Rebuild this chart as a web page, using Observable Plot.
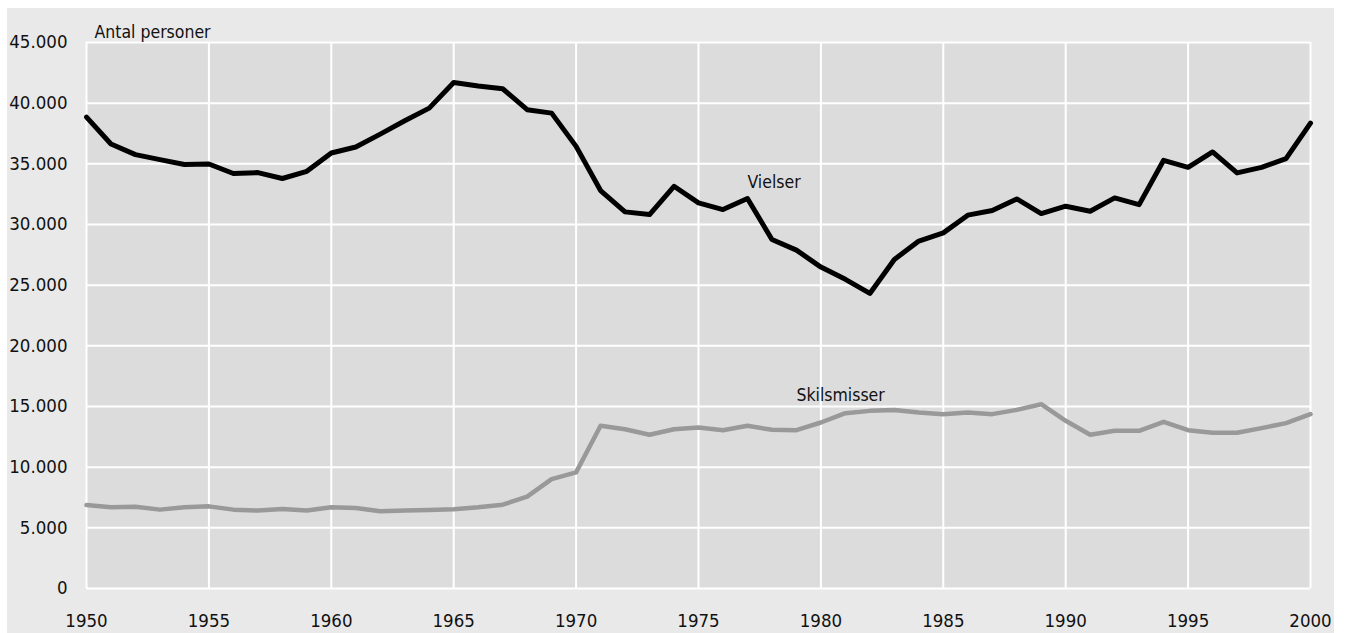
<!DOCTYPE html>
<html>
<head>
<meta charset="utf-8">
<script src="https://cdn.jsdelivr.net/npm/d3@7"></script>
<script src="https://cdn.jsdelivr.net/npm/@observablehq/plot@0.6"></script>
<style>
  html, body { margin: 0; padding: 0; background: #ffffff; overflow: hidden; }
  #box { position: absolute; left: 7px; top: 8px; width: 1327px; height: 625px; background: #e9e9e9; }
  #chart { position: absolute; left: 0; top: 0; }
</style>
</head>
<body>
<div id="box"></div>
<div id="chart"></div>
<script>
const years = d3.range(1950, 2001);
const vielser = [
  38850, 36630, 35760, 35350, 34940, 34990, 34200, 34280, 33790, 34380,
  35890, 36390, 37450, 38550, 39590, 41700, 41420, 41190, 39460, 39180,
  36440, 32800, 31040, 30820, 33150, 31780, 31230, 32140, 28770, 27890,
  26490, 25480, 24320, 27120, 28630, 29310, 30770, 31150, 32110, 30900,
  31510, 31090, 32190, 31640, 35290, 34710, 35980, 34250, 34710, 35430,
  38360
];
const skilsmisser = [
  6880, 6690, 6745, 6500, 6690, 6770, 6500, 6420, 6550, 6420,
  6690, 6630, 6360, 6420, 6470, 6530, 6690, 6910, 7570, 9020,
  9570, 13410, 13130, 12670, 13130, 13270, 13050, 13410, 13080, 13050,
  13680, 14450, 14640, 14720, 14500, 14370, 14500, 14370, 14720, 15190,
  13820, 12670, 13000, 13000, 13740, 13050, 12830, 12830, 13220, 13630,
  14370
];
const seriesNames = ["Vielser", "Skilsmisser"];
const xTicks = d3.range(1950, 2001, 5);
const yTicks = d3.range(0, 45001, 5000);
const yTitle = "Antal personer";
// label anchors in data coordinates
const labelYears = [1977, 1979];
const labelValues = [33500, 15950];

const vRows = years.map((y, i) => ({year: y, value: vielser[i]}));
const sRows = years.map((y, i) => ({year: y, value: skilsmisser[i]}));
const labels = seriesNames.map((n, i) => ({name: n, year: labelYears[i], value: labelValues[i]}));

const fmt = d3.formatLocale({decimal: ",", thousands: ".", grouping: [3], currency: ["", ""]}).format(",");

const chart = Plot.plot({
  width: 1350,
  height: 633,
  marginLeft: 86,
  marginRight: 40,
  marginTop: 42,
  marginBottom: 45,
  style: {fontFamily: "'DejaVu Sans Condensed', 'DejaVu Sans', sans-serif", fontSize: "18.5px", background: "transparent", color: "#111", overflow: "visible"},
  x: {domain: [1950, 2000], ticks: xTicks, tickFormat: d => String(d), tickSize: 0, tickPadding: 25, label: null},
  y: {domain: [0, 45000], ticks: yTicks, tickFormat: fmt, tickSize: 0, tickPadding: 19, label: null},
  marks: [
    Plot.frame({fill: "#dcdcdc", stroke: null}),
    Plot.gridX(xTicks, {stroke: "#ffffff", strokeOpacity: 1, strokeWidth: 2}),
    Plot.gridY(yTicks, {stroke: "#ffffff", strokeOpacity: 1, strokeWidth: 2}),
    Plot.line(sRows, {x: "year", y: "value", stroke: "#999999", strokeWidth: 4.5}),
    Plot.line(vRows, {x: "year", y: "value", stroke: "#000000", strokeWidth: 5}),
    Plot.text(labels, {x: "year", y: "value", text: "name", textAnchor: "start", fill: "#111", fontSize: 17.5}),
    Plot.text([yTitle], {frameAnchor: "top-left", text: d => d, dx: 8, dy: -17, textAnchor: "start", fill: "#111", fontSize: 17.5})
  ]
});
document.getElementById("chart").appendChild(chart);
</script>
</body>
</html>
